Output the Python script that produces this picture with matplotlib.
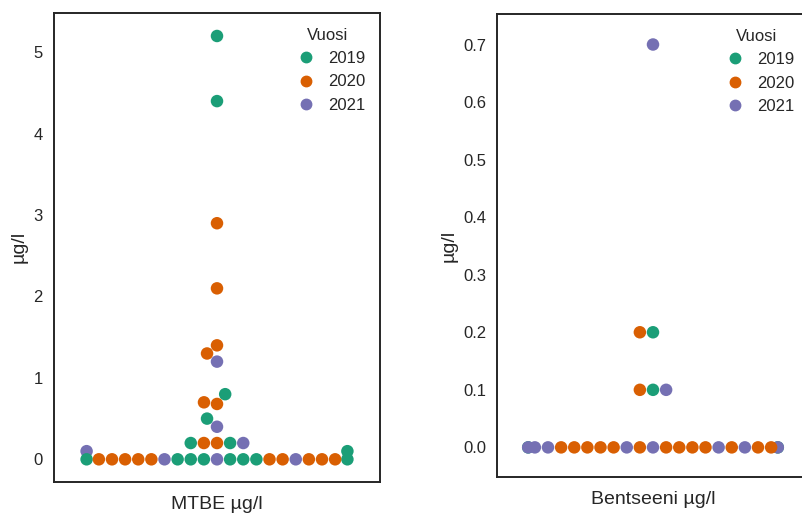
import matplotlib
matplotlib.use("Agg")
import matplotlib.pyplot as plt
import numpy as np
import pandas as pd
import seaborn as sns
from matplotlib.lines import Line2D

# ---------------- data (long format: one entry per sample) ----------------
years = ["2019", "2020", "2021"]

mtbe_arvo = [5.2, 4.4, 0.8, 0.5, 0.2, 0.2, 0.1, 0, 0, 0, 0, 0, 0, 0, 0,
             2.9, 2.1, 1.4, 1.3, 0.7, 0.68, 0.2, 0.2,
             0, 0, 0, 0, 0, 0, 0, 0, 0, 0,
             1.2, 0.4, 0.2, 0.1, 0, 0, 0]
mtbe_vuosi = ["2019", "2019", "2019", "2019", "2020", "2019", "2021", "2021",
              "2021", "2019", "2019", "2019", "2019", "2019", "2019",
              "2020", "2020", "2020", "2020", "2020", "2020", "2021", "2020",
              "2020", "2020", "2020", "2020", "2020", "2021", "2020", "2020",
              "2020", "2019",
              "2021", "2021", "2019", "2019", "2019", "2020", "2020"]

benz_arvo = [0.2, 0.1, 0, 0,
             0.2, 0.1, 0, 0, 0, 0, 0, 0, 0, 0, 0, 0, 0, 0, 0,
             0.7, 0.1, 0, 0, 0, 0, 0, 0, 0, 0]
benz_vuosi = ["2019", "2019", "2020", "2021",
              "2020", "2020", "2020", "2021", "2020", "2020", "2020", "2020",
              "2020", "2020", "2021", "2020", "2021", "2021", "2020",
              "2021", "2021", "2020", "2019", "2019", "2021", "2021", "2020",
              "2021", "2020"]

mtbe_ticks = [0, 1, 2, 3, 4, 5]
benz_ticks = [0.0, 0.1, 0.2, 0.3, 0.4, 0.5, 0.6, 0.7]

palette = ["#1b9e77", "#d95f02", "#7570b3"]
TC = (0.15, 0.15, 0.15)

mtbe_df = pd.DataFrame({"cat": "", "val": mtbe_arvo, "Vuosi": mtbe_vuosi})
benz_df = pd.DataFrame({"cat": "", "val": benz_arvo, "Vuosi": benz_vuosi})

sns.set_style("white")
plt.rcParams["font.family"] = ["Liberation Sans", "DejaVu Sans"]
plt.rcParams["text.color"] = TC
plt.rcParams["axes.labelcolor"] = TC
plt.rcParams["xtick.color"] = TC
plt.rcParams["ytick.color"] = TC
plt.rcParams["axes.edgecolor"] = TC

W, H = 802, 513
fig = plt.figure(figsize=(W / 100, H / 100), dpi=100)
ax1 = fig.add_axes([54 / W, 1 - 481.7 / H, 326 / W, 469 / H])
ax2 = fig.add_axes([497 / W, 1 - 477.3 / H, 312 / W, 463.3 / H])


def draw(ax, df, ylim, ticks, fmt, xlabel, pad):
    sns.swarmplot(data=df, x="cat", y="val", hue="Vuosi", hue_order=years,
                  palette=palette, size=9, ax=ax, legend=False)
    ax.set_xlim(-0.5, 0.5)
    ax.set_ylim(*ylim)
    ax.set_xticks([])
    ax.set_yticks(ticks)
    ax.set_yticklabels([fmt.format(t) for t in ticks])
    ax.tick_params(axis="y", length=0, pad=pad, labelsize=12)
    ax.set_xlabel(xlabel, fontsize=14, color=TC, labelpad=10)
    ax.set_ylabel("µg/l", fontsize=14, color=TC)
    for sp in ax.spines.values():
        sp.set_visible(True)
        sp.set_color(TC)
        sp.set_linewidth(1.4)
    handles = [Line2D([], [], marker="o", linestyle="", color=c,
                      markersize=7.5) for c in palette]
    ax.legend(handles, years, title="Vuosi", loc="upper right", frameon=False,
              fontsize=12, title_fontsize=12, handletextpad=0.3)


draw(ax1, mtbe_df, (-0.275, 5.486), mtbe_ticks, "{:.0f}", "MTBE µg/l", 8)
draw(ax2, benz_df, (-0.052, 0.753), benz_ticks, "{:.1f}", "Bentseeni µg/l", 7.5)

fig.savefig("out.png", dpi=100)
